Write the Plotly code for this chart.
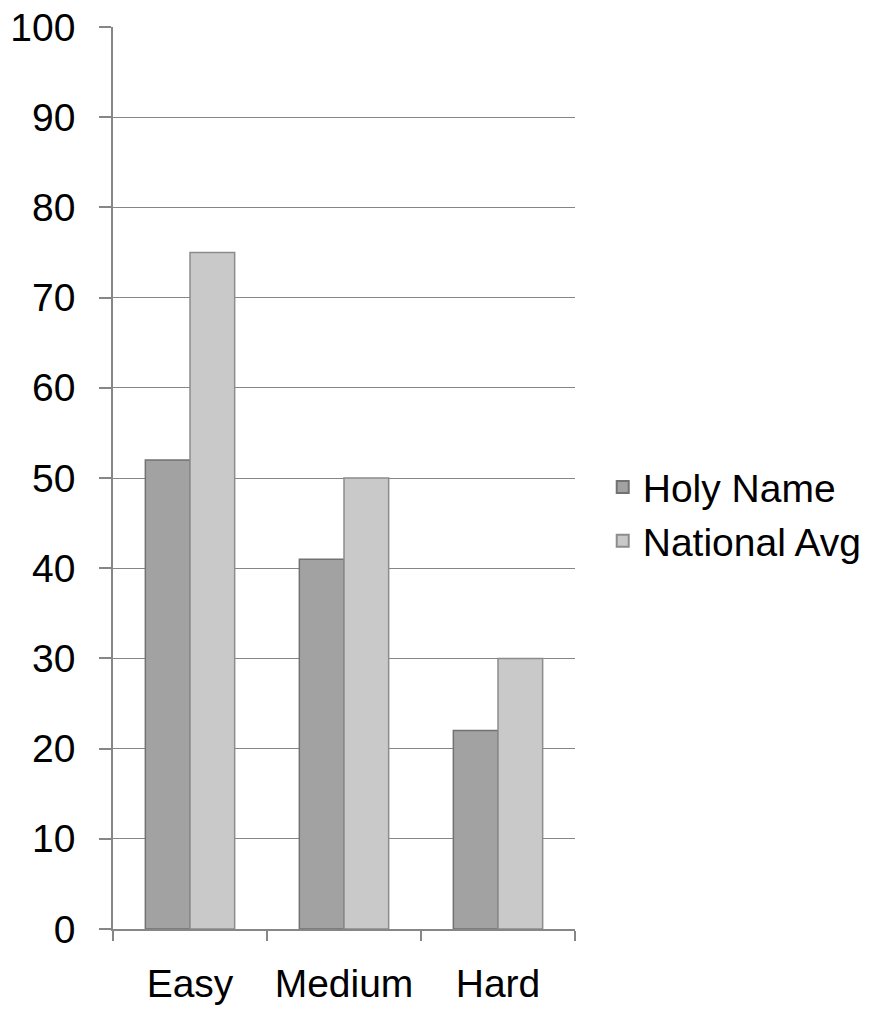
import plotly.graph_objects as go

categories = ["Easy", "Medium", "Hard"]
holy_name = [52, 41, 22]
national_avg = [75, 50, 30]
y_ticks = list(range(0, 101, 10))

fig = go.Figure()
fig.add_trace(go.Bar(
    x=categories, y=holy_name, name="Holy Name",
    marker=dict(color="#a2a2a2", line=dict(color="#727272", width=1.5)),
))
fig.add_trace(go.Bar(
    x=categories, y=national_avg, name="National Avg",
    marker=dict(color="#c9c9c9", line=dict(color="#8c8c8c", width=1.5)),
))

font = dict(family="Liberation Sans, Arial, sans-serif", size=39, color="#000000")

fig.update_layout(
    width=891, height=1013,
    margin=dict(l=113, r=316, t=27, b=84),
    paper_bgcolor="white", plot_bgcolor="white",
    barmode="group", bargap=0.42, bargroupgap=0,
    font=font,
    showlegend=True,
    legend=dict(x=1.06, y=0.46, xanchor="left", yanchor="middle",
                font=font, itemsizing="constant", tracegroupgap=0),
    xaxis=dict(
        showline=True, linecolor="#868686", linewidth=1.5,
        ticks="outside", ticklen=10, tickcolor="#868686", tickwidth=1.5,
        tickson="boundaries", showgrid=False, tickfont=font,
        ticklabelstandoff=19, automargin=False,
    ),
    yaxis=dict(
        range=[0, 100], tickvals=y_ticks,
        showline=True, linecolor="#868686", linewidth=1.5,
        ticks="outside", ticklen=12, tickcolor="#868686", tickwidth=1.5,
        showgrid=True, gridcolor="#868686", gridwidth=1.2,
        zeroline=False, tickfont=font, ticklabelstandoff=16,
        automargin=False,
    ),
)

fig.write_html("out.html")
